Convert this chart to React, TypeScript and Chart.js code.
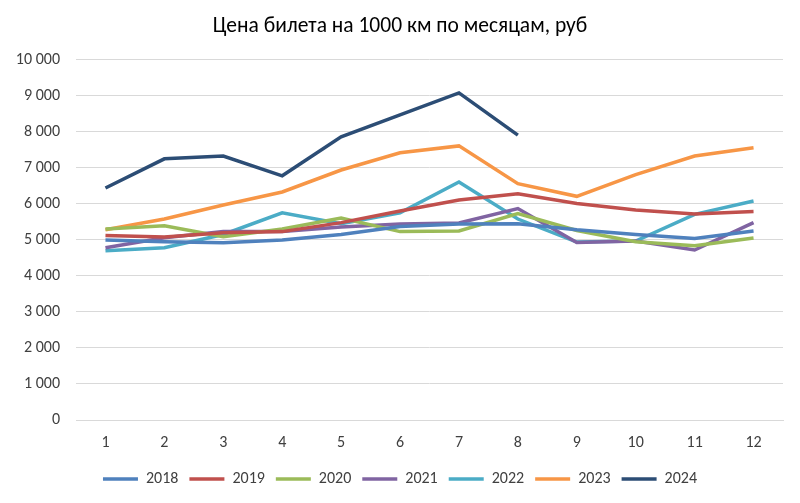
import React, { useEffect, useRef } from "react";
import { Chart, registerables } from "chart.js";

Chart.register(...registerables);

const months = ["1", "2", "3", "4", "5", "6", "7", "8", "9", "10", "11", "12"];
const y2018 = [5000, 4950, 4920, 5000, 5150, 5370, 5440, 5450, 5280, 5150, 5040, 5250];
const y2019 = [5120, 5080, 5200, 5230, 5480, 5800, 6110, 6280, 6010, 5830, 5720, 5790];
const y2020 = [5300, 5390, 5090, 5300, 5610, 5230, 5250, 5730, 5260, 4950, 4840, 5050];
const y2021 = [4780, 5060, 5230, 5230, 5360, 5440, 5470, 5870, 4930, 4970, 4720, 5480];
const y2022 = [4700, 4780, 5150, 5750, 5450, 5750, 6610, 5580, 4940, 4970, 5710, 6080];
const y2023 = [5280, 5580, 5970, 6330, 6940, 7420, 7610, 6560, 6210, 6810, 7330, 7560];
const y2024 = [6440, 7250, 7330, 6780, 7860, 8470, 9080, 7910];

const seriesNames = ["2018", "2019", "2020", "2021", "2022", "2023", "2024"];
const seriesData = [y2018, y2019, y2020, y2021, y2022, y2023, y2024];
const seriesColors = ["#4F81BD", "#C0504D", "#9BBB59", "#8064A2", "#4BACC6", "#F79646", "#2C4D75"];

const titleText = "Цена билета на 1000 км по месяцам, руб";
const FONT = "Carlito, Lato, 'Liberation Sans', sans-serif";
const TEXT = "#404040";

export default function App() {
  const ref = useRef<HTMLCanvasElement | null>(null);
  useEffect(() => {
    if (!ref.current) return;
    const chart = new Chart(ref.current, {
      type: "line",
      data: {
        labels: months,
        datasets: seriesNames.map((name, i) => ({
          label: name,
          data: seriesData[i],
          borderColor: seriesColors[i],
          backgroundColor: seriesColors[i],
          borderWidth: 3.5,
          pointRadius: 0,
          pointStyle: "line",
          tension: 0,
          fill: false,
        })),
      },
      options: {
        animation: false,
        responsive: false,
        maintainAspectRatio: false,
        layout: { padding: { left: 17, right: 17, top: 0, bottom: 6 } },
        plugins: {
          title: {
            display: true,
            text: titleText,
            color: "#000000",
            font: { family: FONT, size: 21.5, weight: "normal" },
            padding: { top: 14, bottom: 20 },
          },
          legend: {
            position: "bottom",
            labels: {
              usePointStyle: true,
              pointStyleWidth: 35,
              color: TEXT,
              font: { family: FONT, size: 16 },
              padding: 11,
            },
          },
          tooltip: { enabled: false },
        },
        scales: {
          x: {
            offset: true,
            grid: { display: false, drawTicks: false },
            border: { display: true, color: "#d9d9d9", width: 1 },
            ticks: { color: TEXT, font: { family: FONT, size: 16 }, padding: 13 },
            afterFit: (scale: any) => {
              scale.height = 40;
            },
          },
          y: {
            min: 0,
            max: 10000,
            grid: { color: "#d9d9d9", lineWidth: 1, drawTicks: false },
            border: { display: false },
            ticks: {
              stepSize: 1000,
              color: TEXT,
              font: { family: FONT, size: 16 },
              padding: 16,
              callback: (v: any) => {
                const n = Number(v);
                return n >= 1000 ? Math.floor(n / 1000) + " " + String(n % 1000).padStart(3, "0") : String(n);
              },
            },
            afterFit: (scale: any) => {
              scale.width = 59;
            },
          },
        },
      },
    });
    return () => chart.destroy();
  }, []);
  return (
    <div style={{ position: "fixed", left: 0, top: 0, width: 800, height: 503, background: "#fff" }}>
      <canvas ref={ref} width={800} height={503} style={{ width: 800, height: 503 }} />
    </div>
  );
}
